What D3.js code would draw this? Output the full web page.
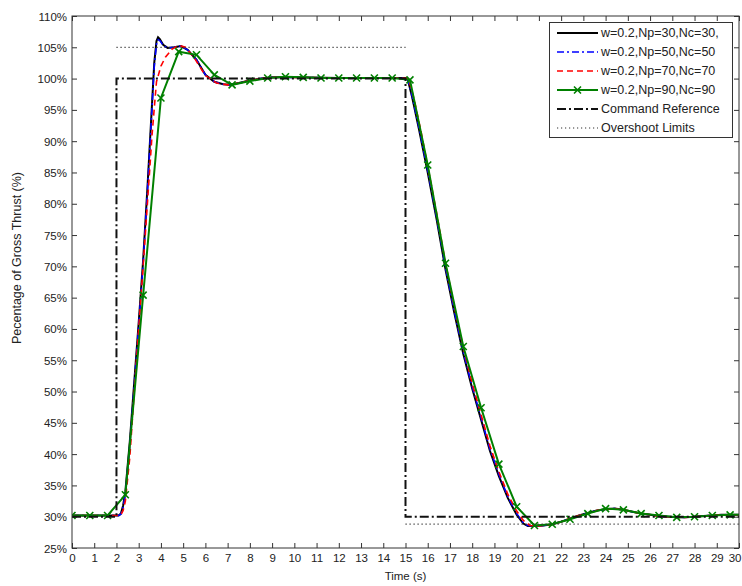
<!DOCTYPE html>
<html><head><meta charset="utf-8">
<script src="https://cdn.jsdelivr.net/npm/d3@7"></script>
<style>body{margin:0;background:#fff}svg{display:block}text{font-family:"Liberation Sans",Arial,sans-serif;fill:#222}</style>
</head><body><svg id="c" width="742" height="586"></svg>
<script>
// ---- data ----
const xTicks = [0,1,2,3,4,5,6,7,8,9,10,11,12,13,14,15,16,17,18,19,20,21,22,23,24,25,26,27,28,29,30];
const yTicks = [25,30,35,40,45,50,55,60,65,70,75,80,85,90,95,100,105,110];

const seriesNames = ["w=0.2,Np=30,Nc=30,","w=0.2,Np=50,Nc=50","w=0.2,Np=70,Nc=70","w=0.2,Np=90,Nc=90","Command Reference","Overshoot Limits"];

// Np=30 (black)
const tBlack = [0,2.0,2.1,2.2,2.3,2.4,2.6,2.8,3.0,3.2,3.4,3.6,3.7,3.8,3.87,3.95,4.1,4.3,4.6,4.9,5.2,5.6,6.0,6.4,6.8,7.1,7.5,8.0,8.5,9.0,10,12,14,15.0,15.1,15.3,15.6,16.0,16.4,16.8,17.2,17.6,18.0,18.4,18.8,19.2,19.6,20.0,20.3,20.5,20.8,21.2,21.6,22.0,22.4,22.8,23.2,23.6,24.0,24.4,24.8,25.2,25.6,26.0,26.4,26.8,27.2,27.6,28.0,28.4,28.8,29.2,29.6,30];
const vBlack = [30.2,30.2,30.2,30.5,31.8,34,42,51.5,61,71,83,96,102.5,106,106.6,106.3,105.4,104.9,105.0,105.2,104.6,103,100.6,99.5,99.1,99.0,99.3,99.7,100.0,100.2,100.2,100.1,100.1,100.1,99.9,97,92,85,77.5,69.5,62.5,56,50.5,45.5,40.5,36.5,33,30.3,28.9,28.5,28.5,28.6,28.8,29.2,29.7,30.2,30.6,31.0,31.2,31.3,31.1,30.8,30.5,30.3,30.1,30.0,29.9,29.9,30.0,30.1,30.2,30.3,30.3,30.3];
// Np=50 (blue)
const tBlue = [0,2.0,2.1,2.2,2.3,2.4,2.6,2.8,3.0,3.2,3.4,3.6,3.7,3.8,3.88,3.97,4.1,4.3,4.6,4.9,5.2,5.6,6.0,6.4,6.8,7.1,7.5,8.0,8.5,9.0,10,12,14,15.0,15.1,15.3,15.6,16.0,16.4,16.8,17.2,17.6,18.0,18.4,18.8,19.2,19.6,20.0,20.3,20.5,20.8,21.2,21.6,22.0,22.4,22.8,23.2,23.6,24.0,24.4,24.8,25.2,25.6,26.0,26.4,26.8,27.2,27.6,28.0,28.4,28.8,29.2,29.6,30];
const vBlue = [30.2,30.2,30.2,30.4,31.5,33.6,41.5,51,60.5,70.5,82.5,95.5,102,105.5,106.2,106.0,105.3,104.9,105.0,105.2,104.6,103,100.6,99.5,99.1,99.0,99.3,99.7,100.0,100.2,100.2,100.1,100.1,100.1,99.9,97.2,92.3,85.3,77.8,69.8,62.8,56.3,50.8,45.8,40.8,36.8,33.2,30.5,29.0,28.6,28.5,28.6,28.8,29.2,29.7,30.2,30.6,31.0,31.2,31.3,31.1,30.8,30.5,30.3,30.1,30.0,29.9,29.9,30.0,30.1,30.2,30.3,30.3,30.3];
// Np=70 (red)
const tRed = [0,2.0,2.2,2.3,2.4,2.6,2.8,3.0,3.2,3.4,3.6,3.8,4.0,4.2,4.5,4.8,5.1,5.5,6.0,6.5,7.0,7.5,8.0,8.5,9.0,10,12,14,15.0,15.15,15.4,15.7,16.0,16.4,16.8,17.2,17.6,18.0,18.4,18.8,19.2,19.6,20.0,20.3,20.6,20.9,21.2,21.6,22.0,22.4,22.8,23.2,23.6,24.0,24.4,24.8,25.2,25.6,26.0,26.4,26.8,27.2,27.6,28.0,28.4,28.8,29.2,29.6,30];
const vRed = [30.2,30.2,30.3,31,32.5,39.5,50,60,70,80.5,91,99.5,102,103.4,104.7,105.3,105.0,103.3,100.5,99.3,99.0,99.3,99.7,100.0,100.2,100.2,100.1,100.1,100.1,99.9,96.5,91.5,86,78.5,70.5,63.5,57,51.3,46.3,41.3,37.2,33.6,30.9,29.4,28.6,28.5,28.6,28.8,29.2,29.7,30.2,30.6,31.0,31.2,31.3,31.1,30.8,30.5,30.3,30.1,30.0,29.9,29.9,30.0,30.1,30.2,30.3,30.3,30.3];
// Np=90 (green, with markers)
const tGreen = [0,0.8,1.6,2.4,3.2,4.0,4.8,5.6,6.4,7.2,8.0,8.8,9.6,10.4,11.2,12.0,12.8,13.6,14.4,15.2,16.0,16.8,17.6,18.4,19.2,20.0,20.8,21.6,22.4,23.2,24.0,24.8,25.6,26.4,27.2,28.0,28.8,29.6];
const vGreen = [30.2,30.2,30.2,33.5,65.4,96.9,104.3,103.8,100.6,99.0,99.6,100.1,100.3,100.2,100.1,100.1,100.1,100.1,100.1,99.8,86.2,70.5,57.2,47.4,38.4,31.6,28.6,28.8,29.6,30.5,31.3,31.1,30.5,30.2,29.9,30.0,30.2,30.3];
const tGreenEnd = 30, vGreenEnd = 30.3;
// command reference
const tCmd = [0,2,2,15,15,30];
const vCmd = [30,30,100,100,30,30];
// overshoot limits
const tOverHi = [2,15], vOverHi = [105,105];
const tOverLo = [15,30], vOverLo = [28.8,28.8];

// ---- chart ----
const svg = d3.select("#c");
const x = d3.scaleLinear().domain([0,30]).range([72,739]);
const y = d3.scaleLinear().domain([25,110]).range([548,16]);
const line = d3.line().x(d=>x(d[0])).y(d=>y(d[1]));
const zip = (a,b)=>a.map((v,i)=>[v,b[i]]);

const g = svg.append("g");
g.append("rect").attr("x",x(0)).attr("y",y(110)).attr("width",x(30)-x(0)).attr("height",y(25)-y(110)).attr("fill","#fff");

// axes
const ax = g.append("g").attr("transform",`translate(0,${y(25)})`)
  .call(d3.axisBottom(x).tickValues(xTicks).tickSizeInner(-5).tickSizeOuter(0).tickPadding(6).tickFormat(d=>d));
const axT = g.append("g").attr("transform",`translate(0,${y(110)})`)
  .call(d3.axisTop(x).tickValues(xTicks).tickSizeInner(-5).tickSizeOuter(0).tickFormat(""));
const ay = g.append("g").attr("transform",`translate(${x(0)},0)`)
  .call(d3.axisLeft(y).tickValues(yTicks).tickSizeInner(-5).tickSizeOuter(0).tickPadding(5).tickFormat(d=>d+"%"));
const ayR = g.append("g").attr("transform",`translate(${x(30)},0)`)
  .call(d3.axisRight(y).tickValues(yTicks).tickSizeInner(-5).tickSizeOuter(0).tickFormat(""));
[ax,axT,ay,ayR].forEach(a=>{a.selectAll(".domain").remove();a.selectAll(".tick line").attr("stroke","#333");a.selectAll("text").attr("font-size",11.5).attr("fill","#222").style("font-family","'Liberation Sans',Arial,sans-serif");});
ay.selectAll("text").attr("dy","0.35em");
// keep last x label inside the picture
ax.selectAll(".tick text").filter(d=>d===30).attr("text-anchor","end").attr("dx","2");

svg.append("clipPath").attr("id","pc").append("rect").attr("x",x(0)).attr("y",y(110)).attr("width",x(30)-x(0)).attr("height",y(25)-y(110));
const p = g.append("g").attr("clip-path","url(#pc)");

p.append("path").attr("d",line(zip(tBlack,vBlack))).attr("fill","none").attr("stroke","#000").attr("stroke-width",2);
p.append("path").attr("d",line(zip(tBlue,vBlue))).attr("fill","none").attr("stroke","#0000ff").attr("stroke-width",1.6).attr("stroke-dasharray","7,3,2,3");
p.append("path").attr("d",line(zip(tRed,vRed))).attr("fill","none").attr("stroke","#ff0000").attr("stroke-width",1.6).attr("stroke-dasharray","6,4");
const gpts = zip(tGreen,vGreen).concat([[tGreenEnd,vGreenEnd]]);
p.append("path").attr("d",line(gpts)).attr("fill","none").attr("stroke","#008000").attr("stroke-width",2);
const cross = (sel)=>sel.attr("d","M-3.5,-3.5L3.5,3.5M-3.5,3.5L3.5,-3.5").attr("stroke","#008000").attr("stroke-width",1.6).attr("fill","none");
p.selectAll("path.mk").data(zip(tGreen,vGreen)).join("path").attr("class","mk")
  .attr("transform",d=>`translate(${x(d[0])},${y(d[1])})`).call(cross);
p.append("path").attr("d",line(zip(tCmd,vCmd))).attr("fill","none").attr("stroke","#111").attr("stroke-width",2).attr("stroke-dasharray","9,3,2,3");
p.append("path").attr("d",line(zip(tOverHi,vOverHi))).attr("fill","none").attr("stroke","#333").attr("stroke-width",1.2).attr("stroke-dasharray","1.2,2.8");
p.append("path").attr("d",line(zip(tOverLo,vOverLo))).attr("fill","none").attr("stroke","#333").attr("stroke-width",1.2).attr("stroke-dasharray","1.2,2.8");

// frame
g.append("rect").attr("x",x(0)).attr("y",y(110)).attr("width",x(30)-x(0)).attr("height",y(25)-y(110)).attr("fill","none").attr("stroke","#333").attr("stroke-width",1);

// axis titles
svg.append("text").attr("x",(x(0)+x(30))/2).attr("y",580).attr("text-anchor","middle").attr("font-size",11.5).text("Time (s)");
svg.append("text").attr("transform",`translate(21,258) rotate(-90)`).attr("text-anchor","middle").attr("font-size",12.5).text("Pecentage of Gross Thrust (%)");

// legend
const lg = svg.append("g");
lg.append("rect").attr("x",549.5).attr("y",22.5).attr("width",183).attr("height",115).attr("fill","#fff").attr("stroke","#333");
const styles = [
  {c:"#000",w:2,d:null},
  {c:"#0000ff",w:1.6,d:"7,3,2,3"},
  {c:"#ff0000",w:1.6,d:"6,4"},
  {c:"#008000",w:2,d:null,m:true},
  {c:"#111",w:2,d:"9,3,2,3"},
  {c:"#333",w:1.2,d:"1.2,2.8"}
];
seriesNames.forEach((n,i)=>{
  const yy = 33 + i*19;
  const s = styles[i];
  const l = lg.append("line").attr("x1",557).attr("x2",598).attr("y1",yy).attr("y2",yy).attr("stroke",s.c).attr("stroke-width",s.w);
  if(s.d) l.attr("stroke-dasharray",s.d);
  if(s.m) lg.append("path").attr("transform",`translate(577.5,${yy})`).call(cross);
  lg.append("text").attr("x",601).attr("y",yy).attr("dy","0.35em").attr("font-size",12.5).text(n);
});
</script></body></html>
